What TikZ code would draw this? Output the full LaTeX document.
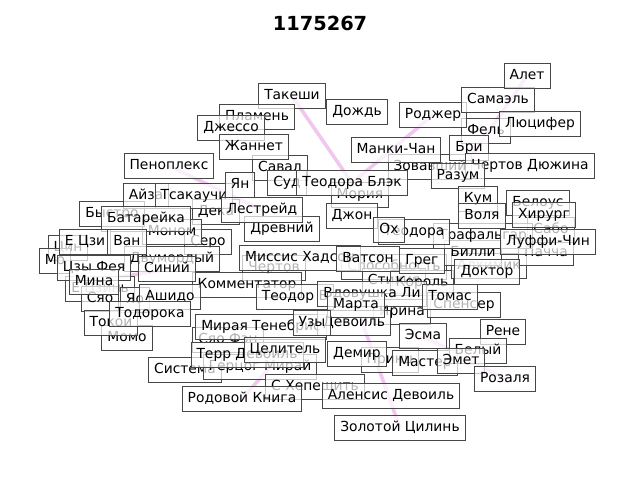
\documentclass[tikz,border=0pt]{standalone}
\usepackage{fontspec}
\setmainfont{DejaVu Sans}
\pgfdeclarelayer{bg}
\pgfsetlayers{bg,main}
\tikzset{
  lbl/.style={draw=black!72, line width=0.7pt, fill=white, fill opacity=0.7, text opacity=1,
    inner xsep=4pt, inner ysep=4pt, text height=7.6pt, text depth=2.4pt,
    font=\fontsize{10}{12}\selectfont},
  edge/.style={draw={rgb,255:red,225;green,130;blue,225}, opacity=0.45, line width=2.6pt}
}
\begin{document}
\begin{tikzpicture}[x=0.01in,y=-0.01in]
\useasboundingbox (0,0) rectangle (640,480);
\node[font=\bfseries\fontsize{14}{16}\selectfont] (title) at (320,23) {1175267};
% lower layer
\node[lbl] (savl) at (280,168) {Савал};
\node[lbl] (moria) at (360,195) {Мория};
\node[lbl] (drev) at (282,229) {Древний};
\node[lbl] (sero) at (208,242) {Серо};
\node[lbl] (deka) at (216,212) {Дека};
\node[lbl] (chertov) at (274,268) {Чертов};
\node[lbl] (sposob) at (394,267) {Способность};
\node[lbl] (stih) at (394,281) {Стихия};
\node[lbl] (korol) at (422,283) {Король};
\node[lbl] (alh) at (489,266) {Алхимик};
\node[lbl] (billi) at (473,253) {Билли};
\node[lbl] (pach) at (546,253) {Пачча};
\node[lbl] (sabo) at (551,230) {Сабо};
\node[lbl] (ezin) at (100,289) {Е Цзинь};
\node[lbl] (syao) at (100,299) {Сяо};
\node[lbl] (yao) at (135,300) {Яо};
\node[lbl] (cin) at (68,248) {Цин};
\node[lbl] (mo) at (55,261) {Мо};
\node[lbl] (syaofen) at (228,340) {Сяо Фэн};
\node[lbl] (sist) at (185,370) {Система};
\node[lbl] (gerc) at (260,367) {Герцог Мирай};
\node[lbl] (hep) at (315,387) {С Хепешить};
\node[lbl] (zov) at (430,167) {Зовавший};
\node[lbl] (fel) at (486,131) {Фель};
\node[lbl] (monom) at (172,232) {Моном};
\node[lbl] (bystro) at (112,214) {Быстро};
\node[lbl] (irina) at (402,312) {Ирина};
\node[lbl] (spen) at (464,305) {Спенсер};
\node[lbl] (princ) at (390,360) {Принц};
\node[lbl] (master) at (425,363) {Мастер};
\node[lbl] (traf) at (483,236) {Трафальгар};
\node[lbl] (dvu) at (172,259) {Двумордый};
\node[lbl] (czy) at (94,268) {Цзы Фея};
\node[lbl] (komm) at (247,285) {Комментатор};
\node[lbl] (teodv) at (295,297) {Теодор В};
\node[lbl] (vdov) at (372,294) {Вдовушка Ли};
\node[lbl] (hads) at (300,258) {Миссис Хадсон};
\node[lbl] (aiza) at (146,196) {Айза};
\node[lbl] (tsak) at (194,196) {Тсакаучи};
\node[lbl] (terr) at (247,355) {Терр Девоиль};
\node[lbl] (miraya) at (261,327) {Мирая Тенебрис};
\node[lbl] (devo) at (354,323) {Девоиль};
\node[lbl] (sud) at (287,183) {Суд};
\node[lbl] (momo) at (127,338) {Момо};
% upper layer
\node[lbl] (peno) at (169,166) {Пеноплекс};
\node[lbl] (take) at (292,96) {Такеши};
\node[lbl] (plam) at (257,117) {Пламень};
\node[lbl] (dzhe) at (231,128) {Джессо};
\node[lbl] (zhan) at (254,147) {Жаннет};
\node[lbl] (dozh) at (357,112) {Дождь};
\node[lbl] (rodzh) at (433,115) {Роджер};
\node[lbl] (sama) at (498,100) {Самаэль};
\node[lbl] (alet) at (527,76) {Алет};
\node[lbl] (lyuc) at (540,124) {Люцифер};
\node[lbl] (manki) at (396,150) {Манки-Чан};
\node[lbl] (bri) at (469,148) {Бри};
\node[lbl] (dyuzh) at (530,166) {Чертов Дюжина};
\node[lbl] (razum) at (458,176) {Разум};
\node[lbl] (yan) at (240,185) {Ян};
\node[lbl] (tblek) at (352,183) {Теодора Блэк};
\node[lbl] (lestr) at (262,210) {Лестрейд};
\node[lbl] (batar) at (146,219) {Батарейка};
\node[lbl] (ecz) at (85,242) {Е Цзи};
\node[lbl] (van) at (127,242) {Ван};
\node[lbl] (siniy) at (167,269) {Синий};
\node[lbl] (mina) at (94,282) {Мина};
\node[lbl] (ashido) at (170,297) {Ашидо};
\node[lbl] (tokoi) at (111,323) {Токои};
\node[lbl] (todor) at (150,314) {Тодорока};
\node[lbl] (dzhon) at (352,216) {Джон};
\node[lbl] (kum) at (478,199) {Кум};
\node[lbl] (volya) at (482,216) {Воля};
\node[lbl] (belous) at (538,203) {Белоус};
\node[lbl] (hir) at (544,215) {Хирург};
\node[lbl] (teodora) at (414,232) {Теодора};
\node[lbl] (oh) at (389,230) {Ох};
\node[lbl] (luffi) at (548,242) {Луффи-Чин};
\node[lbl] (vats) at (368,259) {Ватсон};
\node[lbl] (greg) at (422,261) {Грег};
\node[lbl] (dokt) at (487,272) {Доктор};
\node[lbl] (tomas) at (450,297) {Томас};
\node[lbl] (marta) at (356,305) {Марта};
\node[lbl] (uzy) at (312,323) {Узы};
\node[lbl] (esma) at (423,336) {Эсма};
\node[lbl] (rene) at (503,332) {Рене};
\node[lbl] (belyi) at (478,351) {Белый};
\node[lbl] (emet) at (461,361) {Эмет};
\node[lbl] (rozal) at (505,379) {Розаля};
\node[lbl] (celit) at (285,350) {Целитель};
\node[lbl] (demir) at (357,354) {Демир};
\node[lbl] (rodov) at (242,399) {Родовой Книга};
\node[lbl] (alens) at (391,396) {Аленсис Девоиль};
\node[lbl] (zolot) at (400,428) {Золотой Цилинь};
\begin{pgfonlayer}{bg}
\draw[edge] (alet.center) -- (razum.center);
\draw[edge] (rodzh.center) -- (tblek.center);
\draw[edge] (take.center) -- (tblek.center);
\draw[edge] (peno.center) -- (lestr.center);
\draw[edge] (mina.center) -- (siniy.center);
\draw[edge] (zolot.center) -- (marta.center);
\draw[edge] (rozal.center) -- (esma.center);
\draw[edge] (rodov.center) -- (celit.center);
\end{pgfonlayer}
\end{tikzpicture}
\end{document}
